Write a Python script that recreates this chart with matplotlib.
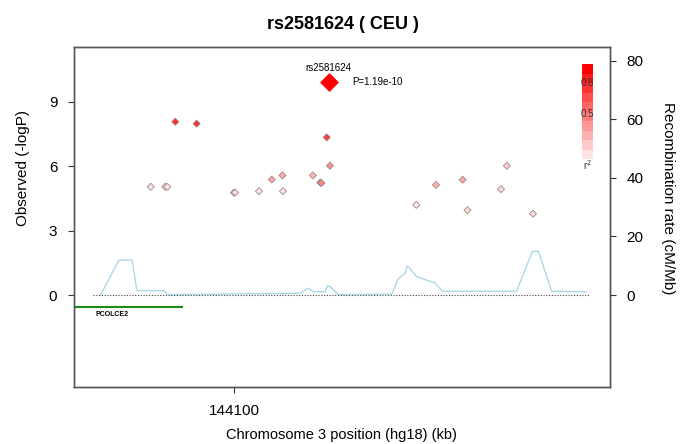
import matplotlib
matplotlib.use("Agg")
import matplotlib.pyplot as plt
import numpy as np

plt.rcParams["font.family"] = ["Liberation Sans", "DejaVu Sans"]

# SNP association results (position kb, -log10 P, r2 with lead SNP)
snp_pos = [144089.0, 144093.0, 144117.4, 144118.0, 144084.4, 144087.1, 144087.5,
           144100.0, 144100.2, 144104.7, 144107.1, 144109.1, 144109.2, 144114.8,
           144116.2, 144116.4, 144134.2, 144137.9, 144142.9, 144143.8, 144150.1,
           144151.2, 144156.1]
snp_logp = [8.07, 7.98, 7.34, 6.02, 5.04, 5.04, 5.04,
            4.77, 4.77, 4.84, 5.38, 5.57, 4.84, 5.57,
            5.24, 5.21, 4.20, 5.13, 5.37, 3.95, 4.93,
            6.02, 3.79]
snp_r2 = [0.8, 0.8, 0.75, 0.4, 0.05, 0.05, 0.05,
          0.1, 0.1, 0.05, 0.3, 0.3, 0.05, 0.25,
          0.45, 0.45, 0.05, 0.25, 0.3, 0.1, 0.1,
          0.15, 0.1]

lead_snp = "rs2581624"
lead_pos = 144117.8
lead_logp = 9.92
lead_p = "P=1.19e-10"

# recombination rate (cM/Mb)
rec_pos = [144075.0, 144078.4, 144080.9, 144081.8, 144086.9, 144087.5, 144112.4,
           144113.9, 144114.9, 144117.1, 144117.5, 144118.1, 144119.6, 144129.6,
           144130.8, 144132.1, 144132.5, 144133.0, 144134.3, 144137.7, 144139.1,
           144153.0, 144156.0, 144157.1, 144159.6, 144166.1]
rec_rate = [0.0, 11.9, 11.9, 1.5, 1.5, 0.1, 0.6,
            2.3, 1.1, 1.1, 3.1, 2.8, 0.1, 0.3,
            5.5, 7.4, 9.9, 9.1, 6.2, 4.2, 1.3,
            1.3, 14.9, 14.9, 1.3, 1.1]

gene_name = "PCOLCE2"
gene_start = 144060.0
gene_end = 144090.2

xmin, xmax = 144070.0, 144170.5
xticks = [144100]

fig = plt.figure(figsize=(6.86, 4.44), dpi=100)
ax = fig.add_axes([0.1079, 0.1284, 0.781, 0.7658])
ax2 = ax.twinx()

ax2.plot(rec_pos, rec_rate, color="#add8e6", lw=1.0, zorder=1)
ax2.set_ylim(-31.4, 84.7)
ax2.set_yticks([0, 20, 40, 60, 80])

ax.set_zorder(ax2.get_zorder() + 1)
ax.patch.set_visible(False)

cmap = plt.matplotlib.colors.LinearSegmentedColormap.from_list("ld", ["#fff0f0", "#ff0000"])
ax.plot([rec_pos[0] - 1.4, rec_pos[-1] + 0.5], [0, 0], ls=(0, (1, 1.5)), color="#444444", lw=0.8)
ax.scatter(snp_pos, snp_logp, marker="D", s=13, c=[cmap(r) for r in snp_r2],
           edgecolors="#9a8888", linewidths=0.6, zorder=3)
ax.scatter([lead_pos], [lead_logp], marker="D", s=75, c="#ff0000", edgecolors="#ff0000", zorder=4)
ax.text(lead_pos, lead_logp + 0.65, lead_snp, fontsize=7, ha="center", va="center")
ax.text(lead_pos + 4.3, lead_logp, lead_p, fontsize=7, ha="left", va="center")

ax.plot([gene_start, gene_end], [-0.57, -0.57], color="#1a8a1a", lw=1.5, clip_on=True)
ax.text(144074.0, -0.92, gene_name, fontsize=5, fontweight="bold", ha="left", va="center")

ax.set_xlim(xmin, xmax)
ax.set_ylim(-4.28, 11.55)
ax.set_xticks(xticks)
ax.set_xticklabels([str(t) for t in xticks])
ax.set_yticks([0, 3, 6, 9])

for a in (ax, ax2):
    a.tick_params(labelsize=11, length=4, color="#333333", pad=8)
    for s in a.spines.values():
        s.set_color("#555555")
        s.set_linewidth(1.0)

ax.set_xlabel("Chromosome 3 position (hg18) (kb)", fontsize=10.5)
ax.xaxis.set_label_coords(0.5, -0.12)
ax.set_ylabel("Observed (-logP)", fontsize=11)
ax.yaxis.set_label_coords(-0.082, 0.645)
ax2.set_ylabel("Recombination rate (cM/Mb)", fontsize=11, rotation=270, va="bottom")
ax2.yaxis.set_label_coords(1.095, 0.556)

fig.suptitle(lead_snp + " ( CEU )", fontsize=13, fontweight="bold", y=0.965)

# r2 colour key
cax = fig.add_axes([0.849, 0.642, 0.0146, 0.213])
levels = np.linspace(0.05, 1.0, 10).reshape(-1, 1)
cax.imshow(levels, cmap=cmap, aspect="auto", origin="lower", vmin=0, vmax=1)
cax.set_xticks([])
cax.set_yticks([])
for s in cax.spines.values():
    s.set_visible(False)
cax.text(0.5, 0.8, "0.8", transform=cax.transAxes, fontsize=7, ha="center", va="center", color="#333333")
cax.text(0.5, 0.48, "0.5", transform=cax.transAxes, fontsize=7, ha="center", va="center", color="#333333")
cax.text(0.5, -0.06, "r$^2$", transform=cax.transAxes, fontsize=7, ha="center", va="center", color="#333333")

fig.savefig("out.png", dpi=100)
